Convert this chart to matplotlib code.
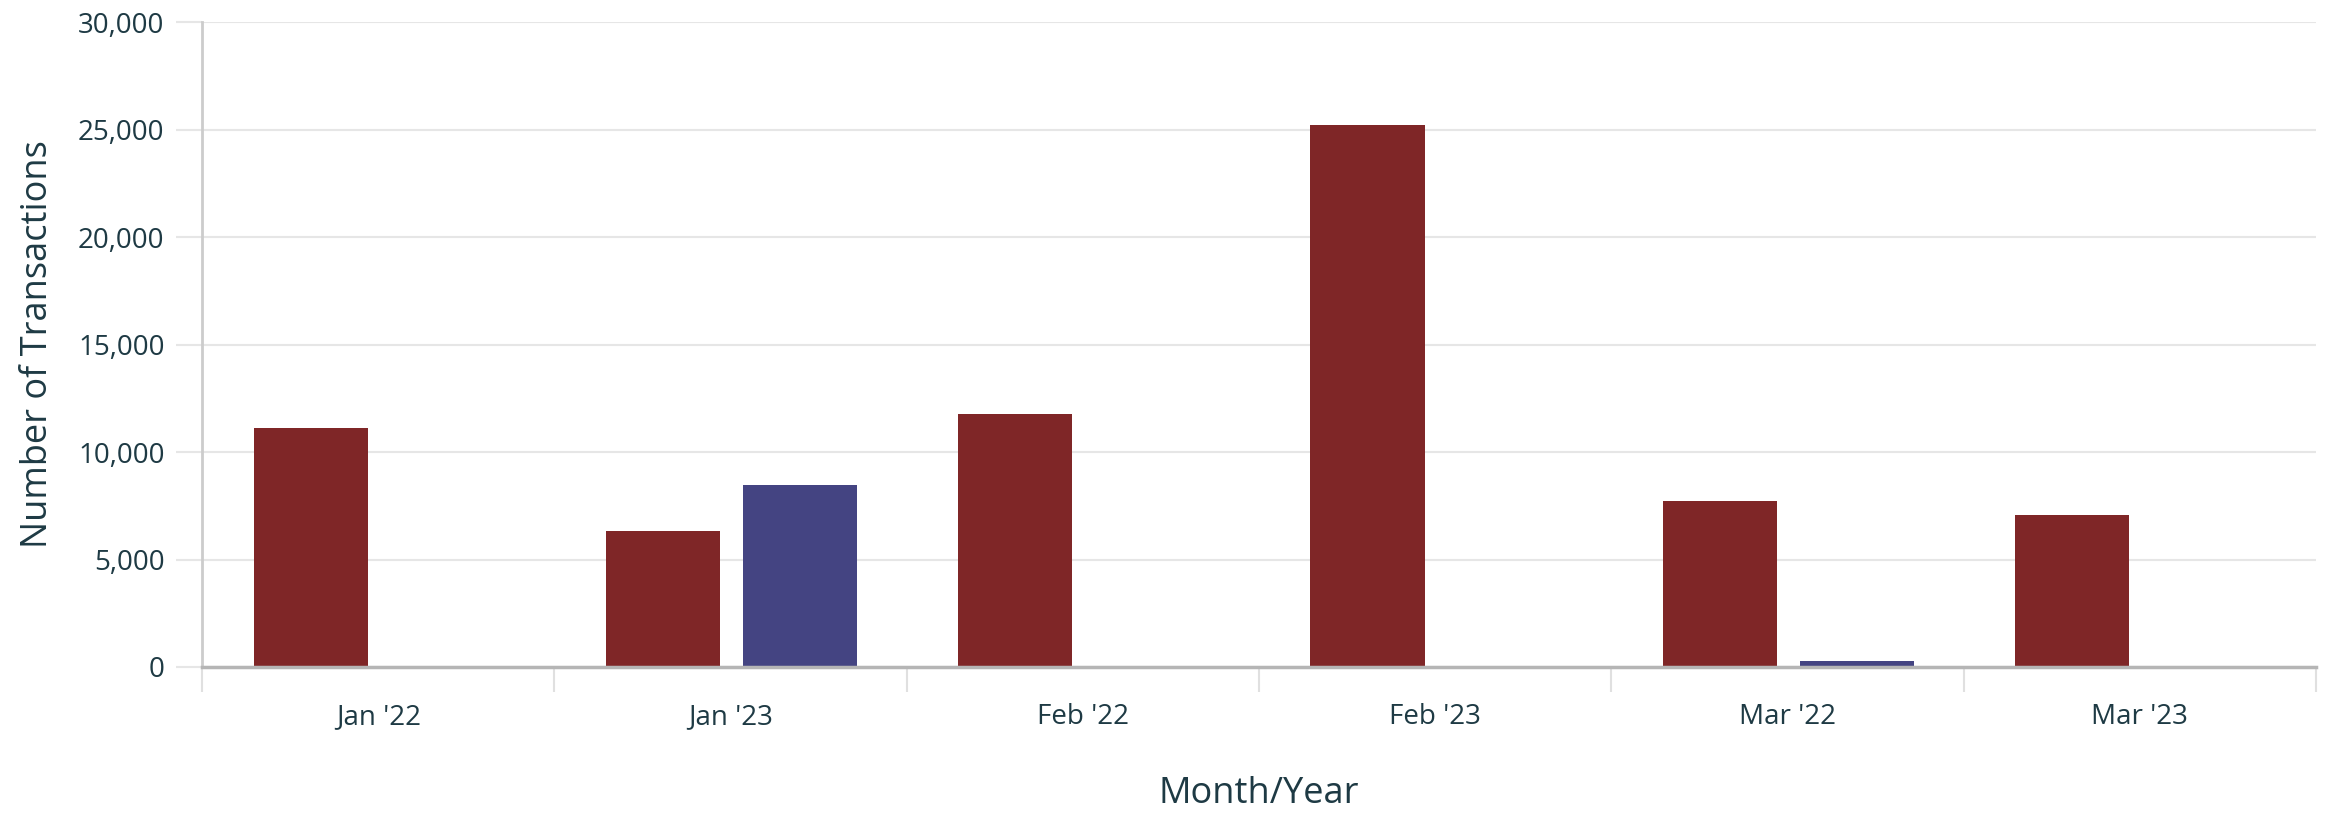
import matplotlib
matplotlib.use("Agg")
import matplotlib.pyplot as plt
import numpy as np
from matplotlib.ticker import FuncFormatter, FixedLocator

categories = ["Jan '22", "Jan '23", "Feb '22", "Feb '23", "Mar '22", "Mar '23"]
series_a = [11100, 6330, 11750, 25200, 7720, 7070]
series_b = [0, 8470, 0, 0, 280, 0]

plt.rcParams['font.family'] = ['Open Sans', 'DejaVu Sans']
text_color = '#1e3a44'
red = '#7f2627'
blue = '#444482'

fig = plt.figure(figsize=(23.28, 8.16), dpi=100)
ax = fig.add_axes([0.0868, 0.1826, 0.908, 0.7904])

x = np.arange(len(categories))
w = 0.324
off = 0.195
ax.bar(x - off + 0.003, series_a, width=w, color=red, zorder=3)
ax.bar(x + off + 0.003, series_b, width=w, color=blue, zorder=3)

ax.set_xlim(-0.5, len(categories) - 0.5)
ax.set_ylim(0, 30000)
ax.set_yticks(np.arange(0, 30001, 5000))
ax.yaxis.set_major_formatter(FuncFormatter(lambda v, p: f"{int(v):,}"))
ax.grid(axis='y', color='#e6e6e6', linewidth=1.5, zorder=0)
ax.tick_params(axis='y', length=19, color='#e6e6e6', width=1.5, labelsize=20,
               labelcolor=text_color, pad=8)

ax.set_xticks(x)
ax.set_xticklabels(categories)
ax.xaxis.set_minor_locator(FixedLocator(np.arange(-0.5, len(categories), 1.0)))
ax.tick_params(axis='x', which='major', length=0, labelsize=20, labelcolor=text_color, pad=26)
ax.tick_params(axis='x', which='minor', length=18, color='#e0e0e0', width=1.5)

for s in ['top', 'right']:
    ax.spines[s].set_visible(False)
ax.spines['left'].set_color('#cccccc')
ax.spines['left'].set_linewidth(2)
ax.spines['bottom'].set_color('#b5b5b5')
ax.spines['bottom'].set_linewidth(2.5)
ax.spines['bottom'].set_zorder(4)

ax.set_xlabel('Month/Year', fontsize=26, color=text_color, labelpad=32)
ax.set_ylabel('Number of Transactions', fontsize=26, color=text_color, labelpad=16)

fig.savefig('out.png', dpi=100, facecolor='white')
